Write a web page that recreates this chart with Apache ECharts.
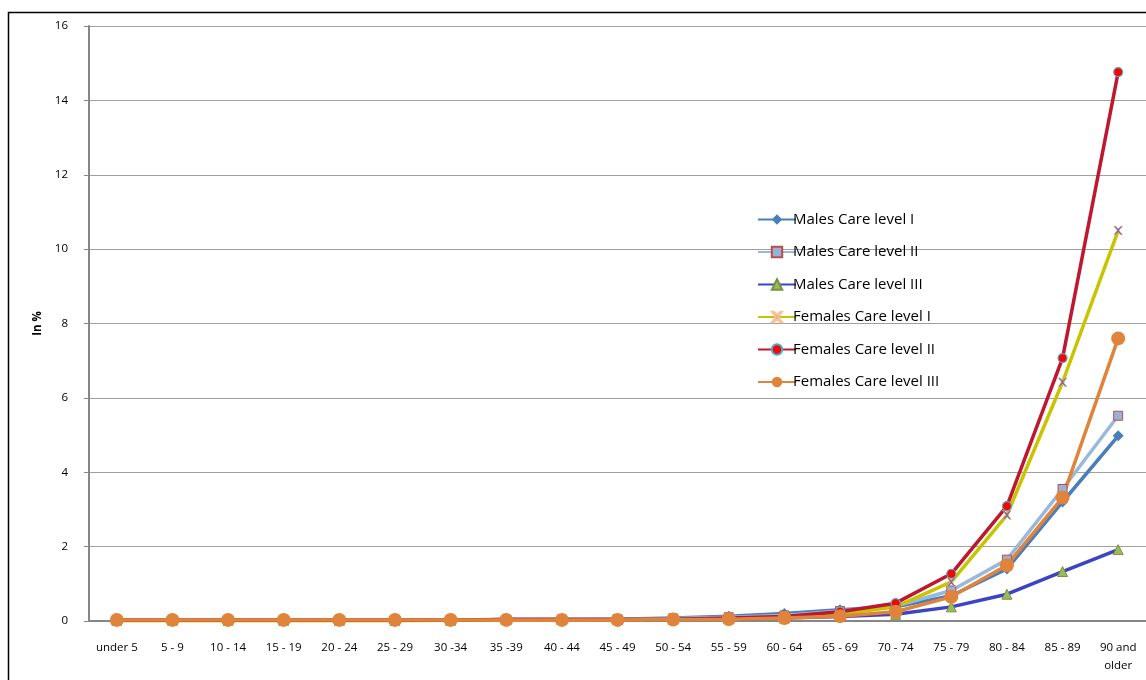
<!DOCTYPE html>
<html>
<head>
<meta charset="utf-8">
<script src="https://cdn.jsdelivr.net/npm/echarts@6/dist/echarts.min.js"></script>
<style>
html,body{margin:0;padding:0;background:#fff;}
#chart{width:1146px;height:680px;}
</style>
</head>
<body>
<div id="chart"></div>
<script>
const categories = ['under 5','5 - 9','10 - 14','15 - 19','20 - 24','25 - 29','30 -34','35 -39','40 - 44','45 - 49','50 - 54','55 - 59','60 - 64','65 - 69','70 - 74','75 - 79','80 - 84','85 - 89','90 and\nolder'];
const yTicks = [0, 2, 4, 6, 8, 10, 12, 14, 16];

const malesCare1   = [0.02,0.02,0.02,0.02,0.02,0.02,0.02,0.04,0.04,0.05,0.08,0.13,0.20,0.30,0.38,0.68,1.40,3.20,4.98];
const malesCare2   = [0.02,0.02,0.02,0.02,0.02,0.02,0.02,0.03,0.04,0.05,0.07,0.10,0.15,0.27,0.40,0.82,1.65,3.55,5.52];
const malesCare3   = [0.02,0.02,0.02,0.02,0.02,0.02,0.02,0.04,0.04,0.04,0.05,0.06,0.08,0.12,0.18,0.38,0.72,1.33,1.92];
const femalesCare1 = [0.01,0.01,0.01,0.01,0.01,0.01,0.02,0.02,0.03,0.04,0.05,0.06,0.10,0.18,0.38,1.05,2.85,6.42,10.50];
const femalesCare2 = [0.02,0.02,0.02,0.02,0.02,0.02,0.03,0.04,0.04,0.04,0.05,0.08,0.12,0.25,0.48,1.27,3.09,7.07,14.76];
const femalesCare3 = [0.03,0.03,0.03,0.03,0.03,0.03,0.03,0.03,0.03,0.03,0.04,0.05,0.08,0.13,0.25,0.65,1.50,3.32,7.60];

const seriesNames = ['Males Care level I','Males Care level II','Males Care level III','Females Care level I','Females Care level II','Females Care level III'];

const xPath = 'path://M0,0 L2,0 L5,3 L8,0 L10,0 L6,5 L10,10 L8,10 L5,7 L2,10 L0,10 L4,5 Z';

function mk(name, data, lineColor, symbol, size, fill, border, bw) {
  return {
    name: name, type: 'line', data: data,
    symbol: symbol, symbolSize: size, showSymbol: true,
    lineStyle: { color: lineColor, width: 3.5 },
    itemStyle: { color: fill, borderColor: border, borderWidth: bw },
    color: lineColor,
    z: 2
  };
}

const chart = echarts.init(document.getElementById('chart'));
chart.setOption({
  animation: false,
  backgroundColor: '#fff',
  textStyle: { fontFamily: 'Open Sans, Liberation Sans, sans-serif' },
  graphic: [{
    type: 'rect', silent: true, z: -1,
    shape: { x: 8.5, y: 12.5, width: 1150, height: 700 },
    style: { fill: 'none', stroke: '#000', lineWidth: 1.5 }
  }],
  grid: { left: 89, right: -1, top: 26, bottom: 59 },
  legend: {
    orient: 'vertical', left: 752, top: 207,
    itemWidth: 38, itemHeight: 13, itemGap: 17.5,
    textStyle: { fontSize: 15, color: '#000', fontFamily: 'Open Sans, sans-serif', padding: [0,0,0,-8] },
    data: seriesNames.map(n => ({ name: n }))
  },
  xAxis: {
    type: 'category', data: categories, boundaryGap: true,
    axisLine: { lineStyle: { color: '#868686', width: 2 } },
    axisTick: { show: false },
    axisLabel: { color: '#000', fontSize: 11.5, interval: 0, margin: 18, lineHeight: 18, align: 'center' }
  },
  yAxis: {
    type: 'value', min: 0, max: 16, interval: 2,
    name: 'In %', nameLocation: 'middle', nameGap: 37, nameRotate: 90,
    nameTextStyle: { fontWeight: 'bold', fontSize: 11.5, color: '#000' },
    axisLine: { show: true, lineStyle: { color: '#868686', width: 2 } },
    axisTick: { show: true, length: 5, lineStyle: { color: '#868686' } },
    axisLabel: { color: '#000', fontSize: 11.5, margin: 21,
      formatter: v => yTicks.includes(v) ? String(v) : '' },
    splitLine: { lineStyle: { color: '#A0A0A0', width: 1.2 } }
  },
  series: [
    mk(seriesNames[0], malesCare1, '#4A7EBB', 'diamond', 11, '#4A7EBB', '#4A7EBB', 0),
    mk(seriesNames[1], malesCare2, '#98B9DC', 'rect', 9, '#95B3D7', '#BE4B48', 1),
    mk(seriesNames[2], malesCare3, '#3B44C4', 'triangle', 10, '#9BBB59', '#77933C', 1),
    mk(seriesNames[3], femalesCare1, '#C8C400', xPath, 9, '#7F5FA0', '#F9C49A', 0.5),
    mk(seriesNames[4], femalesCare2, '#BE1730', 'circle', 9, '#FF0000', '#4BACC6', 1.2),
    mk(seriesNames[5], femalesCare3, '#E0843C', 'circle', 14, '#E0843C', '#E0843C', 0)
  ]
});
</script>
</body>
</html>
